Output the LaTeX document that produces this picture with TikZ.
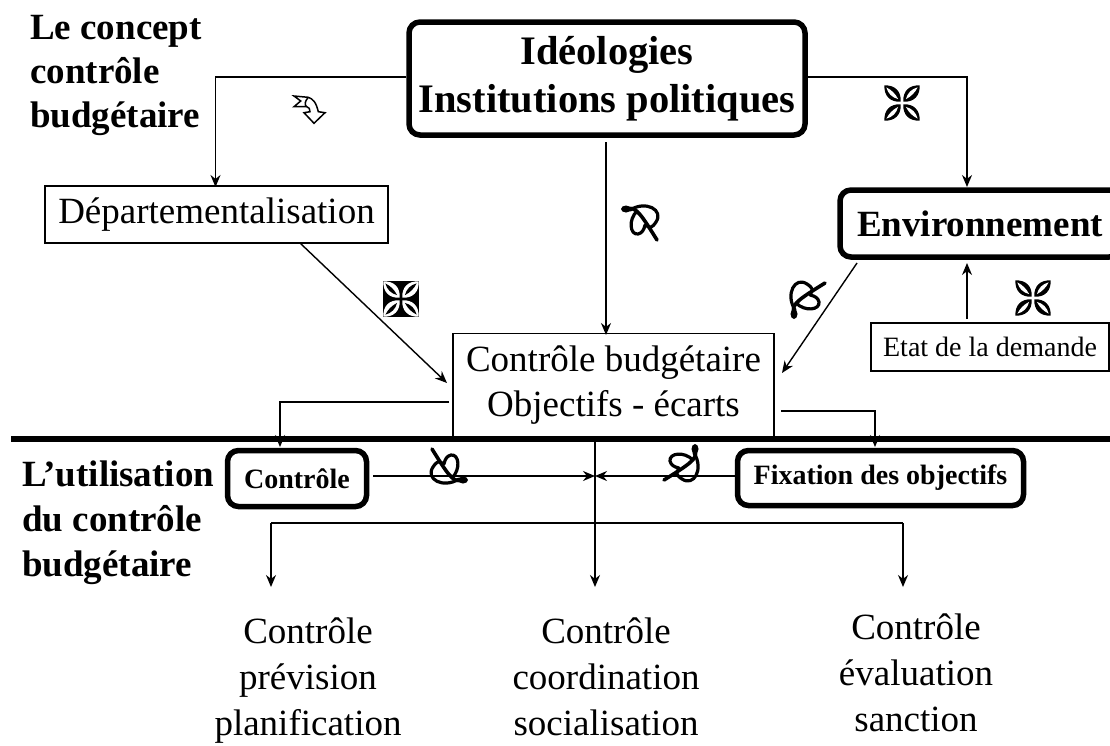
\documentclass[tikz,border=0pt]{standalone}
\usepackage{fontspec}
\setmainfont{Liberation Serif}
\usetikzlibrary{arrows.meta}
\tikzset{
  thinbox/.style={draw=black,line width=1.4pt,fill=white,inner sep=0pt},
  thickbox/.style={draw=black,line width=5.5pt,rounded corners=11pt,fill=white,inner sep=0pt},
  conn/.style={draw=black,line width=1.4pt,-{Stealth[length=12pt,width=10pt]}},
  seg/.style={draw=black,line width=1.4pt},
  plain/.style={align=left,inner sep=0pt,anchor=north west,font=\fontsize{37}{44}\selectfont\bfseries},
  big/.style={align=center,inner sep=0pt,font=\fontsize{37}{46}\selectfont},
  slit/.style={fill=white},
  leaf/.pic={
    \foreach \a in {45,135,225,315}{
      \begin{scope}[rotate=\a]
        \fill[pic actions] (2,0) .. controls (10,-9) and (20,-8) .. (27,0) .. controls (20,8) and (10,9) .. (2,0) -- cycle;
        \path[slit] (6,0) .. controls (12,-3.5) and (18,-3.5) .. (24,0) .. controls (18,2) and (12,2) .. (6,0) -- cycle;
      \end{scope}}
  },
  loopy/.pic={
    \draw[line width=3.6pt,line cap=round,pic actions] (-14,-15) .. controls (-6,-18) and (0,-8) .. (15,16);
    \draw[line width=3.2pt,line cap=round,pic actions] (-12,-14) .. controls (4,-24) and (22,-14) .. (14,-2) .. controls (10,4) and (8,4) .. (5,2);
    \draw[line width=3.2pt,line cap=round,pic actions] (-5,-13) .. controls (-14,-4) and (-12,11) .. (-4,10) .. controls (0,9) and (2,6) .. (3,1);
    \fill[pic actions] (-16,-15) ellipse (5pt and 3.5pt);
  },
  ribbon/.pic={
    \draw[line width=1.5pt,line join=miter,fill=white]
      (-15,-13) -- (-0.7,-11.7) .. controls (4,-10) and (7,-7) .. (9.3,2.7) -- (16,3.7) -- (5,14.3) -- (-5,3.7) -- (1,2.7)
      .. controls (1,0) and (0,-2) .. (-2.3,-2.3) -- (-15,-2.3) -- (-8.3,-8) -- cycle;
    \draw[line width=1.5pt] (-0.7,-11.7) .. controls (-4,-8) and (-5,-4) .. (-2.3,-2.3);
  }
}
\begin{document}
\begin{tikzpicture}[x=1pt,y=-1pt]
\useasboundingbox (0,0) rectangle (1110,745);
% heading texts
\node[plain] (t1) at (30,15) {Le concept\\contrôle\\budgétaire};
\node[plain,font=\fontsize{37}{45}\selectfont\bfseries] (t2) at (22,461) {L’utilisation\\du contrôle\\budgétaire};
% boxes
\node[thickbox,minimum width=396pt,minimum height=113pt,font=\fontsize{40.5}{48}\selectfont\bfseries,align=center] (ideo) at (607,78.5) {Idéologies\\Institutions politiques};
\node[thinbox,minimum width=343pt,minimum height=57pt,font=\fontsize{37}{40}\selectfont] (dept) at (216.5,214.5) {Départementalisation};
\node[thickbox,minimum width=280pt,minimum height=67pt,font=\fontsize{37}{40}\selectfont\bfseries] (env) at (980,223.5) {Environnement};
\node[thinbox,minimum width=238pt,minimum height=48pt,font=\fontsize{28}{30}\selectfont] (etat) at (990,347) {Etat de la demande};
\node[thinbox,minimum width=321pt,minimum height=103pt,font=\fontsize{37}{45}\selectfont,align=center] (cb) at (613.5,385) {Contrôle budgétaire\\Objectifs - écarts};
\draw[line width=6pt] (11,439) coordinate (h1) -- (1110,439) coordinate (h2);
\node[thickbox,minimum width=139pt,minimum height=56pt,font=\fontsize{28}{30}\selectfont\bfseries] (ctrl) at (297,478.5) {Contrôle};
\node[thickbox,minimum width=286pt,minimum height=55pt,font=\fontsize{28}{30}\selectfont\bfseries] (fix) at (880.5,478) {Fixation des objectifs};
\node[big] (c1) at (308,681) {Contrôle\\prévision\\planification};
\node[big] (c2) at (606,677) {Contrôle\\coordination\\socialisation};
\node[big] (c3) at (916,673) {Contrôle\\évaluation\\sanction};
% junctions
\coordinate (mid) at (595,476);
\coordinate (busl) at (271,523);
\coordinate (busr) at (903,523);
\coordinate (a1) at (271,587);
\coordinate (a2) at (595,587);
\coordinate (a3) at (903,587);
% connectors
\draw[conn] (ideo.west |- 0,77) -| (215.5,187);
\draw[conn] (ideo.east |- 0,77) -| (967,187);
\draw[conn] (606,142) -- (606,335);
\draw[conn] (300,243) -- (447,383);
\draw[conn] (857,263) -- (782,373);
\draw[conn] (967,319) -- (967,263);
\draw[conn] (449,402) -| (280,447);
\draw[conn] (781,411) -| (875,447);
\draw[conn] (373,476) -- (mid);
\draw[conn] (fix.west |- mid) -- (mid);
\draw[conn] (595,439) -- (a2);
\draw[seg] (busl) -- (busr);
\draw[conn] (busl) -- (a1);
\draw[conn] (busr) -- (a3);
% symbols
\pic at (309,109) {ribbon};
\pic[scale=.92] at (902,103) {leaf};
\pic[scale=.92] at (1033,298) {leaf};
\fill (383,281) rectangle (419,317);
\begin{scope}[slit/.style={fill=black}]
\pic[white,scale=.92] at (401,299) {leaf};
\end{scope}
\pic at (642,224) {loopy};
\pic[rotate=90] at (809,298) {loopy};
\pic[rotate=180] at (447,465) {loopy};
\pic[rotate=-90] at (680,465) {loopy};
\end{tikzpicture}
\end{document}
